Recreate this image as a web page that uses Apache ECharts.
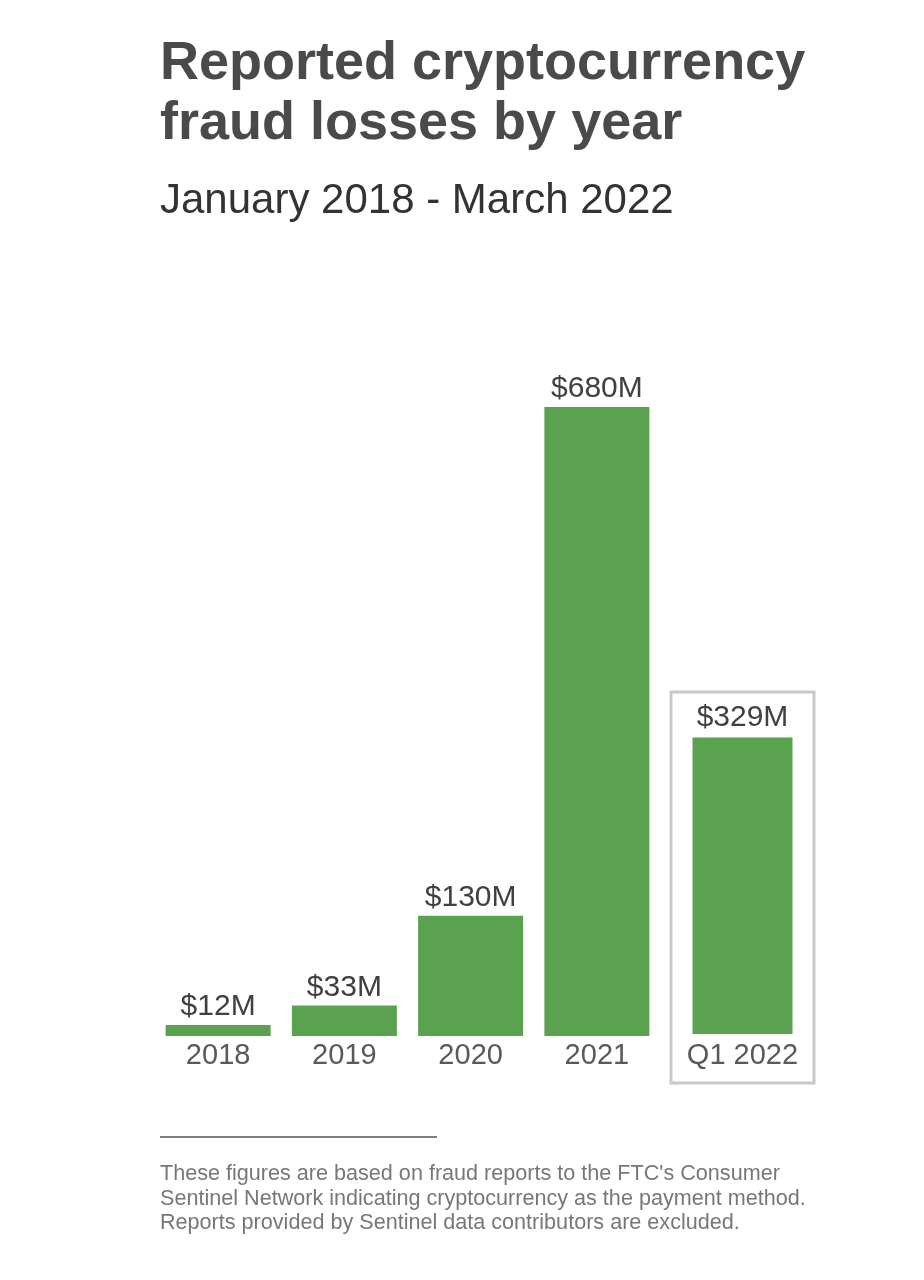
<!DOCTYPE html>
<html style="height: 100%">
<head>
    <meta charset="utf-8">
</head>
<body style="height: 100%; margin: 0; background: #fff">
    <div id="container" style="width: 924px; height: 1280px"></div>
    <script type="text/javascript" src="https://cdn.jsdelivr.net/npm/echarts@6/dist/echarts.min.js"></script>
    <script type="text/javascript">
        // reported losses, millions of dollars
        var years = ['2018', '2019', '2020', '2021'];
        var yearLosses = [12, 33, 130, 680];
        var quarter = ['Q1 2022'];
        var quarterLosses = [329];

        var font = "'Liberation Sans', Arial, sans-serif";
        var green = '#5aa150';

        var dom = document.getElementById('container');
        var myChart = echarts.init(dom);

        var option = {
            backgroundColor: '#fff',
            animation: false,
            title: [
                {
                    text: 'Reported cryptocurrency\nfraud losses by year',
                    left: 160,
                    top: 34,
                    padding: 0,
                    textStyle: {
                        fontFamily: font,
                        fontSize: 54,
                        fontWeight: 'bold',
                        lineHeight: 60,
                        color: '#4a4a4a'
                    }
                },
                {
                    text: 'January 2018 - March 2022',
                    left: 160,
                    top: 180,
                    padding: 0,
                    textStyle: {
                        fontFamily: font,
                        fontSize: 42,
                        fontWeight: 'normal',
                        lineHeight: 42,
                        color: '#333'
                    }
                },
                {
                    text: "These figures are based on fraud reports to the FTC's Consumer\n" +
                          'Sentinel Network indicating cryptocurrency as the payment method.\n' +
                          'Reports provided by Sentinel data contributors are excluded.',
                    left: 160,
                    top: 1162,
                    padding: 0,
                    textStyle: {
                        fontFamily: font,
                        fontSize: 21.6,
                        fontWeight: 'normal',
                        lineHeight: 24.5,
                        color: '#777'
                    }
                }
            ],
            graphic: [
                {
                    type: 'line',
                    shape: { x1: 160, y1: 1137, x2: 437, y2: 1137 },
                    style: { stroke: '#555', lineWidth: 1.5 }
                },
                {
                    type: 'rect',
                    shape: { x: 671, y: 692, width: 143, height: 391 },
                    style: { fill: 'none', stroke: '#c8c8c8', lineWidth: 3 }
                }
            ],
            grid: [
                { left: 155, top: 388.5, width: 505, height: 647.5 },
                { left: 671, top: 403, width: 143, height: 631 }
            ],
            xAxis: [
                {
                    type: 'category',
                    gridIndex: 0,
                    data: years,
                    axisLine: { show: false },
                    axisTick: { show: false },
                    axisLabel: {
                        margin: 5.5,
                        fontFamily: font,
                        fontSize: 29,
                        lineHeight: 29,
                        color: '#595959'
                    }
                },
                {
                    type: 'category',
                    gridIndex: 1,
                    data: quarter,
                    axisLine: { show: false },
                    axisTick: { show: false },
                    axisLabel: {
                        margin: 7.5,
                        fontFamily: font,
                        fontSize: 29,
                        lineHeight: 29,
                        color: '#595959'
                    }
                }
            ],
            yAxis: [
                { type: 'value', gridIndex: 0, min: 0, max: 700, show: false, splitLine: { show: false } },
                { type: 'value', gridIndex: 1, min: 0, max: 700, show: false, splitLine: { show: false } }
            ],
            series: [
                {
                    type: 'bar',
                    xAxisIndex: 0,
                    yAxisIndex: 0,
                    data: yearLosses,
                    barWidth: 105,
                    itemStyle: { color: green },
                    label: {
                        show: true,
                        position: 'top',
                        distance: 3,
                        formatter: '${c}M',
                        fontFamily: font,
                        fontSize: 30,
                        lineHeight: 30,
                        color: '#404040'
                    }
                },
                {
                    type: 'bar',
                    xAxisIndex: 1,
                    yAxisIndex: 1,
                    data: quarterLosses,
                    barWidth: 100,
                    itemStyle: { color: green },
                    label: {
                        show: true,
                        position: 'top',
                        distance: 5,
                        formatter: '${c}M',
                        fontFamily: font,
                        fontSize: 30,
                        lineHeight: 30,
                        color: '#404040'
                    }
                }
            ]
        };

        myChart.setOption(option);
    </script>
</body>
</html>
